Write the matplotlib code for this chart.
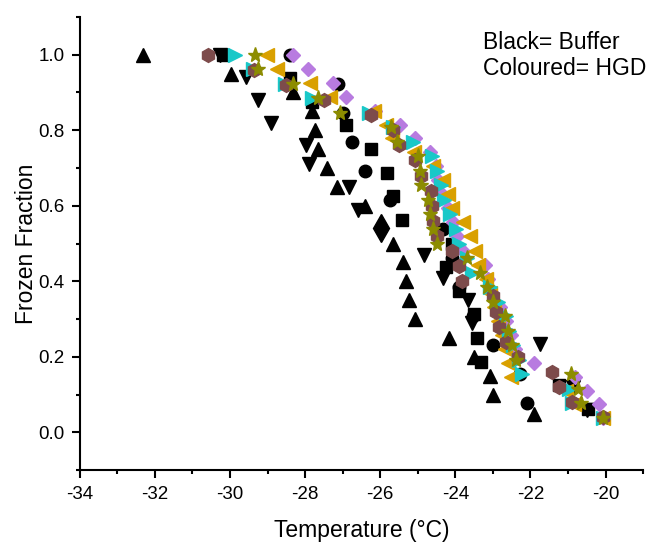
import numpy as np
import matplotlib
matplotlib.use('Agg')
import matplotlib.pyplot as plt
from matplotlib.ticker import MultipleLocator

plt.rcParams['font.family'] = ['Liberation Sans', 'DejaVu Sans']
plt.rcParams['axes.unicode_minus'] = False

# buffer runs (black)
buf_sq_t = [-30.19, -28.41, -27.82, -26.92, -26.25, -25.82, -25.66, -25.42, -24.09, -24.25,
            -23.91, -23.51, -23.43, -23.32, -21.24, -20.47]
buf_sq_f = [1.0, 0.9375, 0.875, 0.8125, 0.75, 0.6875, 0.625, 0.5625, 0.5, 0.4375,
            0.375, 0.3125, 0.25, 0.1875, 0.125, 0.0625]

buf_ci_t = [-28.41, -27.13, -27.00, -26.76, -26.41, -25.74, -24.33, -24.09, -23.91, -23.53,
            -23.00, -22.28, -22.10]
buf_ci_f = [1.0, 0.923, 0.846, 0.769, 0.692, 0.615, 0.538, 0.462, 0.385, 0.308,
            0.231, 0.154, 0.077]

buf_up_t = [-32.32, -29.98, -28.33, -27.82, -27.74, -27.66, -27.42, -27.16, -26.41, -25.66,
            -25.40, -25.32, -25.24, -25.08, -24.17, -23.51, -23.08, -23.00, -21.91]
buf_up_f = [1.0, 0.95, 0.90, 0.85, 0.80, 0.75, 0.70, 0.65, 0.60, 0.50,
            0.45, 0.40, 0.35, 0.30, 0.25, 0.20, 0.15, 0.10, 0.05]

buf_dn_t = [-30.27, -29.58, -29.26, -28.91, -27.98, -27.90, -26.84, -26.60, -24.84, -24.33,
            -23.67, -23.56, -21.75, -20.87, -20.50]
buf_dn_f = [1.0, 0.94, 0.88, 0.82, 0.76, 0.71, 0.65, 0.59, 0.47, 0.41,
            0.35, 0.29, 0.235, 0.12, 0.06]

buf_di_t = [-25.98]
buf_di_f = [0.54]

# HGD runs (coloured)
hex_t = [-30.59, -29.37, -28.51, -27.50, -26.25, -25.66, -25.50, -25.08, -24.92, -24.65,
         -24.63, -24.60, -24.49, -24.09, -23.91, -23.83, -23.00, -22.92, -22.84, -22.66,
         -22.34, -21.43, -21.24, -20.90, -20.07]
hex_f = [1.0, 0.96, 0.92, 0.88, 0.84, 0.80, 0.76, 0.72, 0.68, 0.64,
         0.60, 0.56, 0.52, 0.48, 0.44, 0.40, 0.36, 0.32, 0.28, 0.24,
         0.20, 0.16, 0.12, 0.08, 0.04]

star_t = [-29.34, -29.26, -28.33, -27.66, -27.08, -25.72, -25.56, -25.00, -24.95, -24.92,
          -24.73, -24.68, -24.60, -24.49, -23.69, -23.35, -23.16, -23.00, -22.68, -22.60,
          -22.50, -22.39, -20.92, -20.74, -20.66, -20.07]
star_f = [1.0, 0.962, 0.923, 0.885, 0.846, 0.808, 0.769, 0.731, 0.692, 0.654,
          0.615, 0.577, 0.538, 0.500, 0.462, 0.423, 0.385, 0.346, 0.308, 0.269,
          0.231, 0.192, 0.154, 0.115, 0.077, 0.038]

cyan_t = [-29.87, -29.39, -28.54, -27.82, -26.30, -25.66, -25.13, -24.63, -24.49, -24.39,
          -24.31, -24.15, -23.99, -23.91, -23.69, -23.56, -23.08, -22.87, -22.66, -22.58,
          -22.47, -22.31, -22.23, -20.98, -20.90, -20.07]
cyan_f = [1.0, 0.962, 0.923, 0.885, 0.846, 0.808, 0.769, 0.731, 0.692, 0.654,
          0.615, 0.577, 0.538, 0.500, 0.462, 0.423, 0.385, 0.346, 0.308, 0.269,
          0.231, 0.192, 0.154, 0.115, 0.077, 0.038]

orng_t = [-29.02, -28.75, -27.87, -27.34, -26.17, -25.85, -25.69, -25.11, -24.60, -24.33,
          -24.20, -24.09, -23.80, -23.61, -23.48, -23.40, -23.19, -23.08, -22.97, -22.87,
          -22.76, -22.68, -22.60, -22.52, -21.06, -20.84, -20.07]
orng_f = [1.0, 0.963, 0.926, 0.889, 0.852, 0.815, 0.778, 0.741, 0.704, 0.667,
          0.630, 0.593, 0.556, 0.519, 0.481, 0.444, 0.407, 0.370, 0.333, 0.296,
          0.259, 0.222, 0.185, 0.148, 0.111, 0.074, 0.037]

purp_t = [-28.33, -27.93, -27.26, -26.92, -26.14, -25.48, -25.08, -24.68, -24.52, -24.47,
          -24.36, -24.20, -24.07, -23.96, -23.80, -23.21, -23.13, -23.03, -22.81, -22.66,
          -22.52, -22.42, -21.91, -20.82, -20.50, -20.18, -20.07]
purp_f = [1.0, 0.963, 0.926, 0.889, 0.852, 0.815, 0.778, 0.741, 0.704, 0.667,
          0.630, 0.593, 0.556, 0.519, 0.481, 0.444, 0.407, 0.370, 0.333, 0.296,
          0.259, 0.222, 0.185, 0.148, 0.111, 0.074, 0.037]

fig = plt.figure(figsize=(6.49, 5.43), dpi=100)
ax = fig.add_axes([0.123, 0.134, 0.868, 0.835])

ax.plot(buf_sq_t, buf_sq_f, 's', color='black', ms=8.5, ls='none')
ax.plot(buf_ci_t, buf_ci_f, 'o', color='black', ms=9, ls='none')
ax.plot(buf_up_t, buf_up_f, '^', color='black', ms=9.5, ls='none')
ax.plot(buf_dn_t, buf_dn_f, 'v', color='black', ms=9.5, ls='none')
ax.plot(buf_di_t, buf_di_f, 'd', color='black', ms=14, ls='none')

ax.plot(purp_t, purp_f, 'D', color='#b87be0', ms=7, ls='none')
ax.plot(orng_t, orng_f, '<', color='#d9a000', ms=10, ls='none')
ax.plot(cyan_t, cyan_f, '>', color='#19c8c8', ms=10, ls='none')
ax.plot(hex_t, hex_f, 'h', color='#7d4b4b', ms=10, ls='none')
ax.plot(star_t, star_f, '*', color='#8c8c00', ms=11, ls='none')

ax.set_xlim(-34, -19)
ax.set_ylim(-0.1, 1.1)
ax.xaxis.set_minor_locator(MultipleLocator(1))
ax.yaxis.set_minor_locator(MultipleLocator(0.1))
ax.set_xticks(np.arange(-34, -19, 2))
ax.set_yticks(np.arange(0, 1.01, 0.2))
ax.set_yticklabels(['%.1f' % v for v in np.arange(0, 1.01, 0.2)])

for s in ['top', 'right']:
    ax.spines[s].set_visible(False)
for s in ['left', 'bottom']:
    ax.spines[s].set_linewidth(1.5)
ax.tick_params(which='major', direction='out', length=6, width=1.5, labelsize=13.5, pad=5)
ax.tick_params(which='minor', direction='out', length=3, width=1.5)

ax.set_xlabel('Temperature (\u00b0C)', fontsize=16.5, labelpad=12)
ax.set_ylabel('Frozen Fraction', fontsize=16.5, labelpad=0)

fig.text(0.744, 0.898, 'Black= Buffer\nColoured= HGD', fontsize=16.5, va='center', ha='left',
         linespacing=1.15)

fig.savefig('out.png', dpi=100)
